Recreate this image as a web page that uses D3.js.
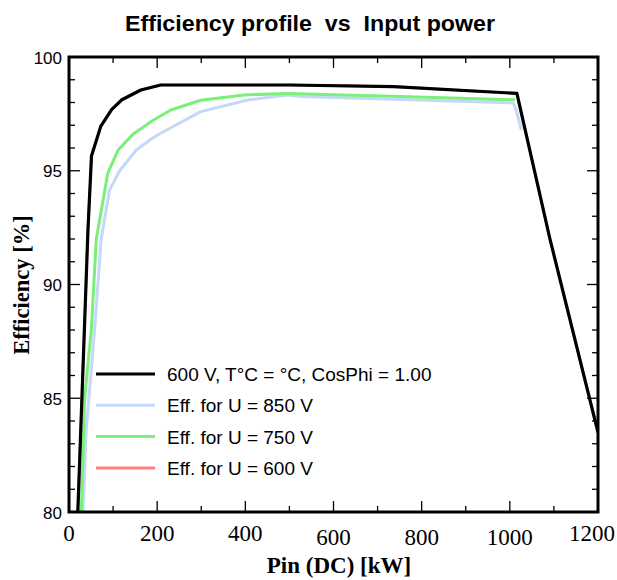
<!DOCTYPE html>
<html><head><meta charset="utf-8">
<script src="https://cdn.jsdelivr.net/npm/d3@7"></script>
<style>body{margin:0;background:#fff}svg{display:block}</style>
</head><body>
<svg id="c" width="617" height="580"></svg>
<script>
// ---- data ----
const xTicks = [0, 200, 400, 600, 800, 1000, 1200];
const yTicks = [80, 85, 90, 95, 100];
const seriesNames = ["600 V, T°C = °C, CosPhi = 1.00", "Eff. for U = 850 V", "Eff. for U = 750 V", "Eff. for U = 600 V"];
const seriesColors = ["#000000", "#c4d8fa", "#7af07a", "#ff8080"];
const main600P = [20, 43, 51, 72, 97, 120, 163, 208, 500, 736, 1016, 1091, 1200];
const main600E = [80, 92.4, 95.65, 96.95, 97.7, 98.12, 98.55, 98.77, 98.77, 98.7, 98.4, 92.0, 83.5];
const u850P = [31.7, 39, 58, 73, 92, 115, 152, 189, 208, 299, 405, 495, 525, 1008, 1014, 1026];
const u850E = [80, 83.6, 88, 92, 94.15, 95.0, 95.9, 96.43, 96.65, 97.6, 98.11, 98.33, 98.26, 97.98, 97.7, 96.8];
const u750P = [28, 35.5, 50.6, 62, 88, 111, 145, 189, 231, 299, 397, 495, 752, 1012];
const u750E = [80, 85.0, 88, 92, 94.9, 95.9, 96.6, 97.2, 97.67, 98.1, 98.33, 98.4, 98.26, 98.12];
const u600P = main600P;
const u600E = main600E;

// ---- chart ----
const svg = d3.select("#c");
const L = 69, R = 598, T = 57, B = 512;
const x = d3.scaleLinear().domain([0, 1200]).range([L, R]);
const y = d3.scaleLinear().domain([80, 100]).range([B, T]);

svg.append("defs").append("clipPath").attr("id", "clip")
  .append("rect").attr("x", L).attr("y", T).attr("width", R - L).attr("height", B - T);

// ticks (inward) on all four sides
const g = svg.append("g");
const minorX = d3.range(0, 1201, 100);
const minorY = d3.range(80, 101, 1);
minorX.forEach(v => {
  const len = v % 200 === 0 ? 11 : 6;
  g.append("line").attr("x1", x(v)).attr("x2", x(v)).attr("y1", B).attr("y2", B - len).attr("stroke", "#000").attr("stroke-width", 1.3);
  g.append("line").attr("x1", x(v)).attr("x2", x(v)).attr("y1", T).attr("y2", T + len).attr("stroke", "#000").attr("stroke-width", 1.3);
});
minorY.forEach(v => {
  const len = v % 5 === 0 ? 11 : 6;
  g.append("line").attr("x1", L).attr("x2", L + len).attr("y1", y(v)).attr("y2", y(v)).attr("stroke", "#000").attr("stroke-width", 1.3);
  g.append("line").attr("x1", R).attr("x2", R - len).attr("y1", y(v)).attr("y2", y(v)).attr("stroke", "#000").attr("stroke-width", 1.3);
});

// tick labels
const xJitter = [0, 0, 0, 4, 4, 4, 0];
xTicks.forEach((v, i) => {
  const last = i === xTicks.length - 1;
  svg.append("text").attr("x", last ? 615 : x(v)).attr("y", 541 + xJitter[i])
    .attr("text-anchor", last ? "end" : "middle").attr("font-family", "'Liberation Serif', serif")
    .attr("font-size", 23).text(v);
});
yTicks.forEach(v => {
  svg.append("text").attr("x", 62).attr("y", y(v) + 6.5)
    .attr("text-anchor", "end").attr("font-family", "'Liberation Sans', Arial, sans-serif")
    .attr("font-size", 17).text(v);
});

// lines
const series = [
  {P: u850P, E: u850E, c: seriesColors[1], w: 3},
  {P: u750P, E: u750E, c: seriesColors[2], w: 3},
  {P: u600P, E: u600E, c: seriesColors[3], w: 2.5},
  {P: main600P, E: main600E, c: seriesColors[0], w: 3.2}
];
const line = d3.line().x(d => x(d[0])).y(d => y(d[1]));
series.forEach(s => {
  svg.append("path").attr("clip-path", "url(#clip)")
    .attr("d", line(s.P.map((p, i) => [p, s.E[i]])))
    .attr("fill", "none").attr("stroke", s.c).attr("stroke-width", s.w)
    .attr("stroke-linejoin", "round");
});

// frame
svg.append("rect").attr("x", L).attr("y", T).attr("width", R - L).attr("height", B - T)
  .attr("fill", "none").attr("stroke", "#000").attr("stroke-width", 3);

// legend
const legW = [3.2, 3, 3, 3];
seriesNames.forEach((n, i) => {
  const ly = 374 + i * 31.3;
  svg.append("line").attr("x1", 96).attr("x2", 155).attr("y1", ly).attr("y2", ly)
    .attr("stroke", seriesColors[i]).attr("stroke-width", legW[i]);
  svg.append("text").attr("x", 167).attr("y", ly + 7)
    .attr("font-family", "'Liberation Sans', Arial, sans-serif").attr("font-size", 19)
    .text(n);
});

// titles
svg.append("text").attr("x", 310).attr("y", 31).attr("text-anchor", "middle")
  .attr("xml:space", "preserve").style("white-space", "pre")
  .attr("font-family", "'Liberation Sans', Arial, sans-serif").attr("font-weight", "bold")
  .attr("font-size", 22).attr("textLength", 370).attr("lengthAdjust", "spacingAndGlyphs")
  .text("Efficiency profile  vs  Input power");
svg.append("text").attr("x", 339).attr("y", 573).attr("text-anchor", "middle")
  .attr("font-family", "'Liberation Serif', serif").attr("font-weight", "bold")
  .attr("font-size", 23).text("Pin (DC) [kW]");
svg.append("text").attr("transform", "translate(29,285) rotate(-90)").attr("text-anchor", "middle")
  .attr("font-family", "'Liberation Serif', serif").attr("font-weight", "bold")
  .attr("font-size", 22.5).text("Efficiency [%]");
</script>
</body></html>
